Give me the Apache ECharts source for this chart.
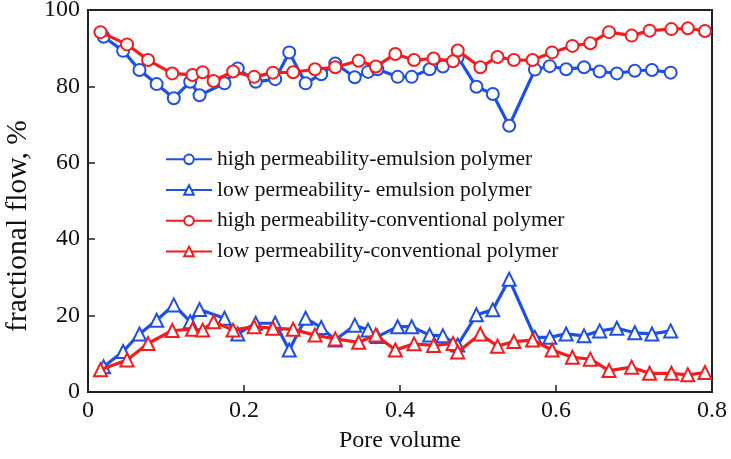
<!DOCTYPE html>
<html>
<head>
<meta charset="utf-8">
<script src="https://cdn.jsdelivr.net/npm/echarts@6/dist/echarts.min.js"></script>
<style>html,body{margin:0;padding:0;background:#fff}#c{width:731px;height:459px}</style>
</head>
<body>
<div id="c"></div>
<script>
var seriesNames = ['high permeability-emulsion polymer','low permeability- emulsion polymer','high permeability-conventional polymer','low permeability-conventional polymer'];
var xTicks = [0, 0.2, 0.4, 0.6, 0.8];
var yTicks = [0, 20, 40, 60, 80, 100];

var emulsionX = [0.02,0.045,0.066,0.088,0.11,0.131,0.143,0.175,0.192,0.215,0.24,0.258,0.279,0.299,0.317,0.342,0.359,0.371,0.397,0.415,0.438,0.455,0.474,0.498,0.519,0.54,0.573,0.592,0.613,0.636,0.656,0.678,0.701,0.723,0.747];
var highEmulsion = [93.0,89.3,84.3,80.6,76.9,81.2,77.7,80.8,84.7,81.2,81.9,88.9,80.8,83.2,86.0,82.4,83.8,84.5,82.5,82.5,84.5,85.2,87.7,79.9,78.0,69.7,84.4,85.3,84.5,85.0,83.9,83.4,84.1,84.3,83.6];
var lowEmulsion = [6.6,10.6,15.2,18.8,22.8,18.4,21.6,19.3,15.2,18.0,18.0,11.0,19.3,16.9,13.6,17.5,16.2,14.5,17.1,17.1,14.9,14.7,12.3,20.2,21.5,29.5,14.3,14.3,15.2,14.7,16.0,16.7,15.5,15.2,16.0];

var conventionalX = [0.016,0.05,0.077,0.108,0.134,0.147,0.161,0.186,0.213,0.237,0.263,0.291,0.317,0.347,0.369,0.394,0.418,0.443,0.468,0.474,0.503,0.525,0.546,0.570,0.595,0.621,0.644,0.668,0.697,0.72,0.748,0.769,0.791];
var highConventional = [94.2,91.0,86.9,83.4,83.0,83.7,81.4,83.9,82.5,83.6,83.7,84.5,85.0,86.7,85.2,88.5,86.9,87.3,86.6,89.4,85.0,87.7,86.9,86.9,88.9,90.6,91.3,94.2,93.3,94.6,95.0,95.2,94.5];
var lowConventional = [5.8,8.4,12.7,16.1,16.4,16.2,18.4,16.2,17.1,16.7,16.4,14.9,13.9,13.0,14.9,11.0,12.6,12.2,12.7,10.5,15.2,12.0,13.2,13.6,11.0,9.1,8.6,5.6,6.5,4.9,4.9,4.5,5.1];

function pairs(xs, ys){ return xs.map(function(x,i){ return [x, ys[i]]; }); }

var BLUE = '#1f50e6', RED = '#f41c1c';
var FONT = 'Liberation Serif';

function mk(name, xs, ys, color, symbol, size, z){
  return {
    name: name, type: 'line', data: pairs(xs, ys), z: z,
    symbol: symbol, symbolSize: size, showSymbol: true,
    lineStyle: {color: color, width: 3.2},
    itemStyle: {color: color, borderColor: color, borderWidth: 2.4},
    emphasis: {disabled: true}
  };
}

var chart = echarts.init(document.getElementById('c'));
chart.setOption({
  animation: false,
  backgroundColor: '#fff',
  textStyle: {fontFamily: FONT},
  grid: {left: 88, right: 19, top: 10, bottom: 67, outerBoundsMode: 'none', containLabel: false, show: true, borderColor: '#222', borderWidth: 2, backgroundColor: 'transparent'},
  legend: {
    data: seriesNames, orient: 'vertical', left: 160, top: 142,
    itemWidth: 46, itemHeight: 12, itemGap: 6,
    textStyle: {fontFamily: FONT, fontSize: 21.5, color: '#111', lineHeight: 24.7}
  },
  xAxis: {
    type: 'value', min: xTicks[0], max: xTicks[xTicks.length-1], interval: 0.2,
    name: 'Pore volume', nameLocation: 'middle', nameGap: 37,
    nameTextStyle: {fontFamily: FONT, fontSize: 24, color: '#111'},
    axisLine: {show: true, lineStyle: {color: '#222', width: 2}},
    axisTick: {show: true, inside: true, length: 7, lineStyle: {color: '#222', width: 1.5}},
    axisLabel: {fontFamily: FONT, fontSize: 24, color: '#111', margin: 7},
    splitLine: {show: false}
  },
  yAxis: {
    type: 'value', min: yTicks[0], max: yTicks[yTicks.length-1], interval: 20,
    name: 'fractional flow, %', nameLocation: 'middle', nameGap: 50, nameRotate: 90,
    nameTextStyle: {fontFamily: FONT, fontSize: 29.5, color: '#111', padding: [0, 50, 0, 0]},
    axisLine: {show: true, lineStyle: {color: '#222', width: 2}},
    axisTick: {show: true, inside: true, length: 7, lineStyle: {color: '#222', width: 1.5}},
    axisLabel: {fontFamily: FONT, fontSize: 24, color: '#111', margin: 8},
    splitLine: {show: false}
  },
  series: [
    mk(seriesNames[0], emulsionX, highEmulsion, BLUE, 'emptyCircle', 12, 2),
    mk(seriesNames[1], emulsionX, lowEmulsion, BLUE, 'emptyTriangle', 13, 2),
    mk(seriesNames[2], conventionalX, highConventional, RED, 'emptyCircle', 12, 3),
    mk(seriesNames[3], conventionalX, lowConventional, RED, 'emptyTriangle', 13, 3)
  ]
});
</script>
</body>
</html>
